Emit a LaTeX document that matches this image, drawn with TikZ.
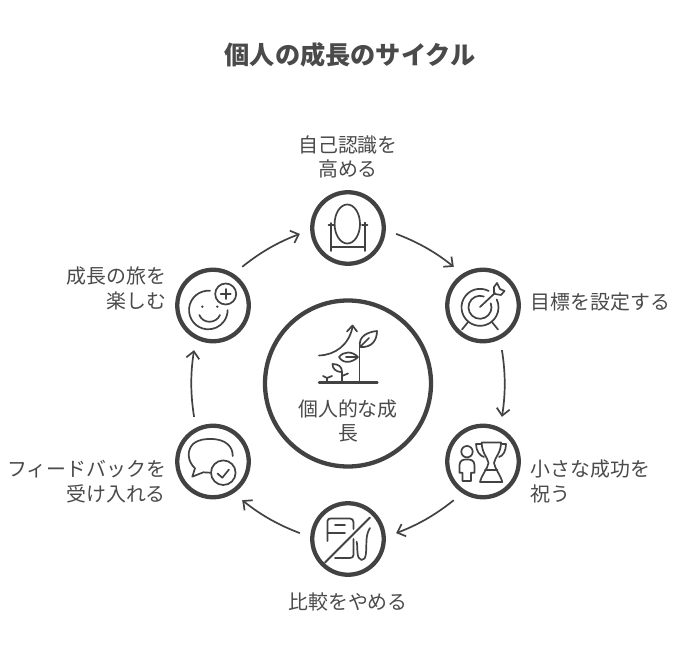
\documentclass[tikz,border=0pt]{standalone}
\usepackage{fontspec}
\setmainfont{Noto Sans CJK JP}
\usetikzlibrary{arrows.meta,positioning}
\definecolor{inkC}{HTML}{424242}
\definecolor{textC}{HTML}{4A4A4A}
\tikzstyle{stepNode} = [circle, minimum size=71.5pt, inner sep=0pt, line width=4.3pt, draw=inkC, fill=white]
\tikzstyle{hubNode} = [stepNode, minimum size=166pt]
\tikzstyle{eNode} = [font=\fontsize{19.9}{24.5}\selectfont, text=textC, inner sep=0pt]
\tikzstyle{titleNode} = [font=\fontsize{25.2}{30}\selectfont\bfseries, text=textC, inner sep=0pt]
\tikzstyle{arrowC} = [line width=1.7pt, draw=inkC, -{Straight Barb[length=7pt,width=13pt,line width=1.7pt]}, shorten >=11pt, shorten <=11pt]
\tikzstyle{icon} = [line width=1.7pt, draw=inkC, line cap=round, line join=round]
\begin{document}
\begin{tikzpicture}[x=1pt,y=-1pt,node distance=155.5pt]
    \useasboundingbox (0,0) rectangle (696,660);
    \node (title) [titleNode] at (350,55) {個人の成長のサイクル};
    \node (hub) [hubNode] at (348,383.5) {};
    \node (mirror) [stepNode, above of=hub] {};
    \node (target) [stepNode, right of=hub, xshift=-20.5pt, yshift=78pt] {};
    \node (trophy) [stepNode, right of=hub, xshift=-20.5pt, yshift=-78pt] {};
    \node (pump) [stepNode, below of=hub] {};
    \node (chat) [stepNode, left of=hub, xshift=20.5pt, yshift=-78pt] {};
    \node (face) [stepNode, left of=hub, xshift=20.5pt, yshift=78pt] {};

    \node (hubtext) [eNode, align=center] at (348,421) {個人的な成\\長};
    \node (mirrortext) [eNode, align=center, above=11.5pt of mirror] {自己認識を\\高める};
    \node (targettext) [eNode, align=left, right=9.5pt of target, yshift=4pt] {目標を設定する};
    \node (trophytext) [eNode, align=left, right=9.5pt of trophy, yshift=-20pt] {小さな成功を\\祝う};
    \node (pumptext) [eNode, below=15.5pt of pump] {比較をやめる};
    \node (chattext) [eNode, align=right, left=9pt of chat, yshift=-20pt] {フィードバックを\\受け入れる};
    \node (facetext) [eNode, align=right, left=9pt of face, yshift=17pt] {成長の旅を\\楽しむ};

    \draw [arrowC] (mirror.-3) to[bend left=9] (target.123);
    \draw [arrowC] (target.-63) to[bend left=9] (trophy.63);
    \draw [arrowC] (trophy.-123) to[bend left=9] (pump.3);
    \draw [arrowC] (pump.177) to[bend left=9] (chat.-57);
    \draw [arrowC] (chat.117) to[bend left=9] (face.-117);
    \draw [arrowC] (face.57) to[bend left=9] (mirror.183);

    % mirror
    \draw [icon] (347.3,224) ellipse (12.7 and 19.5);
    \draw [icon] (330.7,223) -- (330.7,251) (365.3,222.5) -- (365.3,251) (330.7,246.7) -- (365.3,246.7);
    \draw [icon] (328.5,225) -- (334,225) (362,225) -- (367.5,225);
    % target
    \draw [icon] (488.7,291) arc (-62:-385:18.5);
    \draw [icon] (483.9,296.5) arc (-70:-380:11.5);
    \draw [icon] (480,307) -- (495,293);
    \draw [icon] (494,293.5) -- (494,287) -- (497,283) -- (500,289) -- (504.5,291) -- (501,295) -- (495,294);
    \draw [icon] (462,329.5) -- (468.5,321.5) (498,329.5) -- (491.5,321.5);
    % trophy and person
    \draw [icon] (467,451.7) circle (5.7);
    \draw [icon] (462.5,481) -- (462.5,472.7) -- (459.5,472.7) -- (459.5,465) .. controls (460,460) and (463,459.5) .. (467,459.5) .. controls (471,459.5) and (474,460) .. (474.5,465) -- (474.5,472.7) -- (471,472.7) -- (471,481) -- cycle;
    \draw [icon] (481.7,442.5) -- (501,442.5) .. controls (501,453) and (495,457) .. (494,463) .. controls (495,469) and (500,474) .. (502.3,482) -- (480,482) .. controls (482,474) and (487.5,469) .. (488.5,463) .. controls (487.5,457) and (481.7,453) .. (481.7,442.5);
    \draw [icon] (481,444) -- (476,444) .. controls (476,451) and (480,456) .. (484,457);
    \draw [icon] (502,444) -- (506,444) .. controls (506,451) and (503,456) .. (499,457);
    \draw [icon] (485,470) -- (497.5,470);
    % fuel pump
    \draw [icon] (327.5,541) -- (327.5,521) .. controls (327.5,519) and (329,518.5) .. (331,518.5) -- (350,518.5) .. controls (352,518.5) and (353.5,520) .. (353.5,522) -- (353.5,529);
    \draw [icon] (327.5,533) -- (345,533) (335,525) -- (345,525);
    \draw [icon] (353.5,539) -- (353.5,555) .. controls (353.5,557) and (352,558) .. (350,558) -- (335,558);
    \draw [icon, line width=2pt] (325,562.5) -- (370,517.5);
    \draw [icon] (356.7,541.7) .. controls (358,548) and (356,559) .. (361.5,560) .. controls (367,560.5) and (366,550) .. (366.5,540) .. controls (366.8,535) and (368,531) .. (370,528);
    % chat
    \draw [icon] (210,472.7) -- (203.3,472.3) -- (192.3,476.7) -- (195,468.3) .. controls (187,461) and (187,450) .. (193,444) .. controls (199,439) and (206,439) .. (211,439) .. controls (226,439) and (233,447) .. (232.7,456);
    \draw [icon] (223.3,472.7) circle (12.3);
    \draw [icon] (217.5,473.5) -- (222.3,477.7) -- (229,469.5);
    % face
    \draw [icon] (210,290.8) arc (-85:-360:19.3);
    \fill [inkC] (202.3,306.7) circle (1.3) (217.3,306.7) circle (1.3);
    \draw [icon] (199.3,315) .. controls (203,324) and (216,324) .. (220,315);
    \draw [icon] (225.7,294) circle (10.5);
    \draw [icon] (220.7,294) -- (230.7,294) (225.7,289) -- (225.7,299);
    % plant
    \draw [icon, line width=2.2pt] (319,382.5) -- (377.5,382.5);
    \draw [icon] (359.5,381) -- (359.5,347);
    \draw [icon] (360,347) .. controls (358,336) and (368,332) .. (377,331) .. controls (377,340) and (372,348) .. (360,347);
    \draw [icon] (360,347) -- (369,338);
    \draw [icon] (358,357) .. controls (352,363) and (343,364) .. (339,357) .. controls (344,351) and (352,351) .. (358,357) -- (346,357);
    \draw [icon] (319,355.5) .. controls (335,355) and (349,345) .. (352.5,327);
    \draw [icon] (347,331.5) -- (352.5,325.5) -- (357,331.5);
    \draw [icon] (342,381) -- (342,372) (342,372) .. controls (335,372) and (332.5,368) .. (332.5,364) .. controls (339,364) and (342,367) .. (342,372) (342,376) -- (348,373.5);
    \draw [icon] (327,381) -- (327,378) -- (323,376) (327,378) -- (332,376);
\end{tikzpicture}
\end{document}
